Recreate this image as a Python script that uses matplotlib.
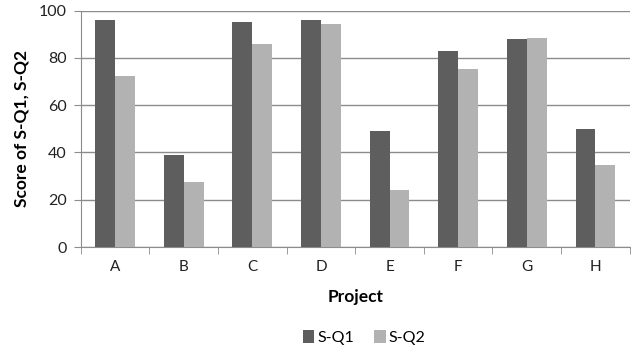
import matplotlib.pyplot as plt
import numpy as np

plt.rcParams['font.family'] = ['Lato', 'DejaVu Sans']

projects = ['A', 'B', 'C', 'D', 'E', 'F', 'G', 'H']
s_q1 = [96, 39, 95, 96, 49, 83, 88, 50]
s_q2 = [72.5, 27.5, 86, 94.5, 24, 75.5, 88.5, 34.5]

dark = '#5e5e5e'
light = '#b2b2b2'

fig = plt.figure(figsize=(6.31, 3.52), dpi=100)
ax = fig.add_axes([0.128, 0.298, 0.870, 0.672])

x = np.arange(len(projects))
w = 0.29
ax.bar(x - w / 2, s_q1, width=w, color=dark, label='S-Q1', zorder=3)
ax.bar(x + w / 2, s_q2, width=w, color=light, label='S-Q2', zorder=3)

ax.set_xlim(-0.5, len(projects) - 0.5)
ax.set_ylim(0, 100)
ax.set_yticks(range(0, 101, 20))
ax.yaxis.grid(True, color='#8c8c8c', linewidth=1.0, zorder=0)

# category ticks sit between groups, Excel style
ax.set_xticks(x)
ax.set_xticklabels(projects)
ax.set_xticks(np.arange(-0.5, len(projects)), minor=True)
ax.tick_params(axis='x', which='major', length=0, pad=9, labelsize=11, labelcolor='#222222')
ax.tick_params(axis='x', which='minor', length=5, color='#8c8c8c', direction='out')
ax.tick_params(axis='y', length=5, color='#8c8c8c', labelsize=11.5, labelcolor='#222222', pad=5)

for side in ['top', 'right']:
    ax.spines[side].set_visible(False)
ax.spines['left'].set_color('#8c8c8c')
ax.spines['bottom'].set_color('#8c8c8c')

ax.set_ylabel('Score of S-Q1, S-Q2', fontsize=12.5, fontweight='bold', labelpad=7)
ax.set_xlabel('Project', fontsize=12.5, fontweight='bold', labelpad=11)

fig.legend(loc='center', bbox_to_anchor=(0.577, 0.042), ncol=2, frameon=False,
           fontsize=11.5, handlelength=0.75, handleheight=0.9, handletextpad=0.2,
           columnspacing=1.2)

fig.savefig('out.png', dpi=100, facecolor='white')
